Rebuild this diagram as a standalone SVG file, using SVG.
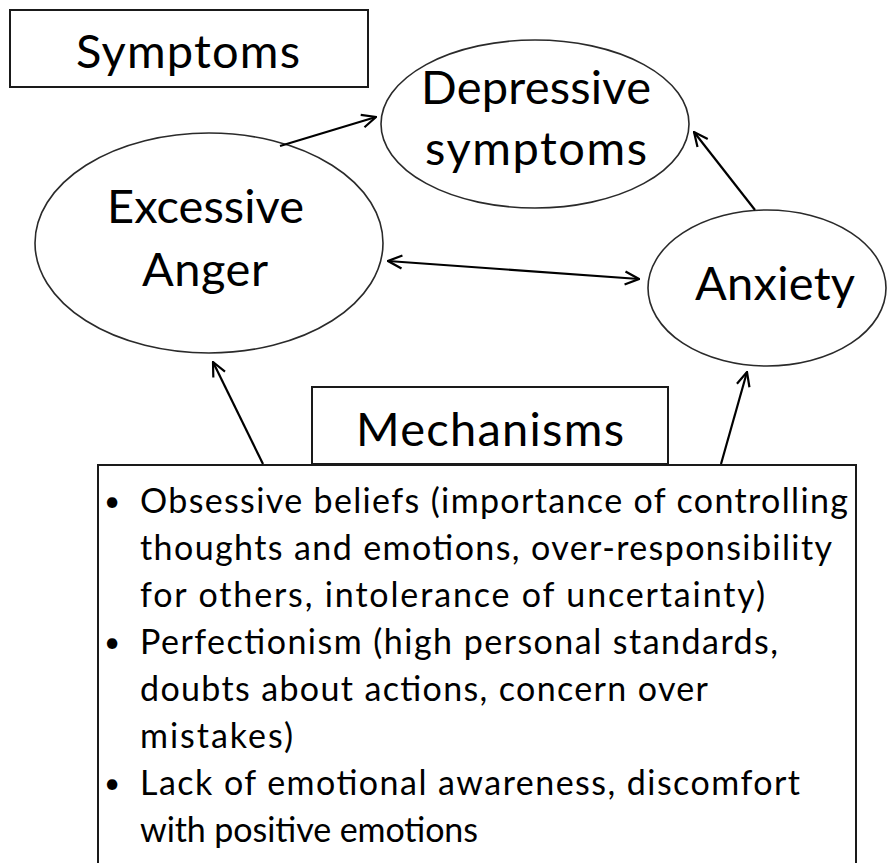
<svg xmlns="http://www.w3.org/2000/svg" width="888" height="863" viewBox="0 0 888 863">
<defs>
<style>
.box{fill:#fff;stroke:#1a1a1a;stroke-width:2}
.ell{fill:#fff;stroke:#2a2a2a;stroke-width:1.6}
.t{font-family:Lato,"Open Sans","Liberation Sans",sans-serif;fill:#000}
.big{font-size:47px}
.body{font-size:34px}
.bul{font-size:28px}
.edge{stroke:#000;stroke-width:2.2;fill:none}
</style>
<marker id="ah" viewBox="0 0 16 16" refX="15" refY="8" markerWidth="16" markerHeight="16" markerUnits="userSpaceOnUse" orient="auto-start-reverse">
<path d="M1,1.5 L15,8 L1,14.5" fill="none" stroke="#000" stroke-width="2.2"/>
</marker>
</defs>
<rect width="888" height="863" fill="#fff"/>

<g id="symptoms-label">
<rect class="box" x="10" y="10" width="358" height="77"/>
<text class="t big" x="76" y="68" textLength="224">Symptoms</text>
</g>

<g id="depressive">
<ellipse class="ell" cx="535" cy="124" rx="154" ry="84"/>
<text class="t big" x="421" y="104" textLength="230">Depressive</text>
<text class="t big" x="425" y="165" textLength="222">symptoms</text>
</g>

<g id="anger">
<ellipse class="ell" cx="209" cy="243" rx="174" ry="110"/>
<text class="t big" x="107" y="223" textLength="197">Excessive</text>
<text class="t big" x="142" y="286" textLength="126">Anger</text>
</g>

<g id="anxiety">
<ellipse class="ell" cx="767" cy="288" rx="119" ry="78"/>
<text class="t big" x="695" y="300" textLength="160">Anxiety</text>
</g>

<g id="mechanisms">
<rect class="box" x="98" y="465" width="758" height="420"/>
<rect class="box" x="312" y="387" width="356" height="77"/>
<text class="t big" x="356" y="446" textLength="268">Mechanisms</text>
<g class="t bul">
<text x="104" y="511">•</text>
<text x="104" y="652">•</text>
<text x="104" y="793">•</text>
</g>
<g class="t body">
<text x="140" y="513" textLength="708">Obsessive beliefs (importance of controlling</text>
<text x="140" y="560" textLength="692">thoughts and emotions, over-responsibility</text>
<text x="140" y="607" textLength="625">for others, intolerance of uncertainty)</text>
<text x="140" y="654" textLength="638">Perfectionism (high personal standards,</text>
<text x="140" y="701" textLength="568">doubts about actions, concern over</text>
<text x="140" y="748" textLength="153">mistakes)</text>
<text x="140" y="795" textLength="660">Lack of emotional awareness, discomfort</text>
<text x="140" y="842" textLength="338">with positive emotions</text>
</g>
</g>

<g id="connectors">
<line class="edge" x1="280" y1="146" x2="376" y2="117" marker-end="url(#ah)"/>
<line class="edge" x1="755" y1="210" x2="694" y2="132" marker-end="url(#ah)"/>
<line class="edge" x1="388" y1="261" x2="639" y2="279" marker-start="url(#ah)" marker-end="url(#ah)"/>
<line class="edge" x1="263" y1="464" x2="213" y2="362" marker-end="url(#ah)"/>
<line class="edge" x1="721" y1="464" x2="747" y2="372" marker-end="url(#ah)"/>
</g>
</svg>
